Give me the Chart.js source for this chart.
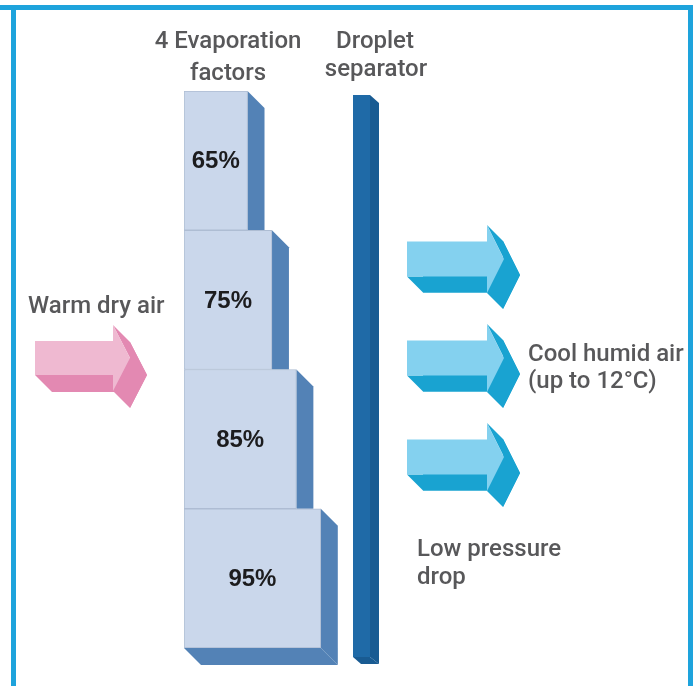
<!DOCTYPE html>
<html>
<head>
<meta charset="utf-8">
<script src="https://cdn.jsdelivr.net/npm/chart.js@4"></script>
<style>
  html, body { margin: 0; padding: 0; background: #fff; }
  #wrap { width: 697px; height: 686px; position: relative; }
</style>
</head>
<body>
<div id="wrap"><canvas id="chart"></canvas></div>
<script>
// ---- data ----
const STAGES = ["Stage 1", "Stage 2", "Stage 3", "Stage 4"];
const EVAPORATION = [65, 75, 85, 95];          // % evaporation factor per stage
const EVAP_LABELS = ["65%", "75%", "85%", "95%"];
const X_BASE = 39;                              // value where the blocks start
const X_MAX = 249;

const TEXT_COLOR = "#58585a";
const FRAME_COLOR = "#1ea3dc";
const DEPTH = 17;

// ---- drawing helpers ----
function poly(ctx, pts, color) {
  ctx.beginPath();
  ctx.moveTo(pts[0][0], pts[0][1]);
  for (let i = 1; i < pts.length; i++) ctx.lineTo(pts[i][0], pts[i][1]);
  ctx.closePath();
  ctx.fillStyle = color;
  ctx.fill();
}

// extruded arrow: front face + the side faces that face the viewer
function arrow3d(ctx, x, cy, bodyLen, bodyH, headLen, headH, d, front, side) {
  const bx = x + bodyLen;
  const pts = [
    [x, cy - bodyH / 2], [bx, cy - bodyH / 2], [bx, cy - headH / 2],
    [bx + headLen, cy], [bx, cy + headH / 2], [bx, cy + bodyH / 2], [x, cy + bodyH / 2],
  ];
  poly(ctx, pts.map(p => [p[0] + d, p[1] + d]), side);
  for (let i = 0; i < pts.length; i++) {
    const a = pts[i], b = pts[(i + 1) % pts.length];
    if ((b[1] - a[1]) - (b[0] - a[0]) > 0) {
      poly(ctx, [a, b, [b[0] + d, b[1] + d], [a[0] + d, a[1] + d]], side);
    }
  }
  poly(ctx, pts, front);
}

const decor = {
  id: "decor",
  beforeDatasetsDraw(chart) {
    const ctx = chart.ctx;
    const bars = chart.getDatasetMeta(0).data;
    ctx.save();
    // side faces of the evaporation blocks
    bars.forEach((bar, i) => {
      const top = bar.y - bar.height / 2, bottom = bar.y + bar.height / 2;
      const right = bar.x, left = bar.base;
      const last = i === bars.length - 1;
      poly(ctx, [[right, top], [right + DEPTH, top + DEPTH],
        [right + DEPTH, bottom + (last ? DEPTH : 0)], [right, bottom]], "#5382b6");
      if (last) {
        poly(ctx, [[left, bottom], [left + DEPTH, bottom + DEPTH],
          [right + DEPTH, bottom + DEPTH], [right, bottom]], "#5382b6");
      }
    });
    ctx.restore();
  },
  afterDatasetsDraw(chart) {
    const ctx = chart.ctx;
    const bars = chart.getDatasetMeta(0).data;
    ctx.save();

    // percentage labels
    ctx.font = "bold 24px 'Liberation Sans', Arial, sans-serif";
    ctx.fillStyle = "#1c1c1e";
    ctx.textAlign = "center";
    ctx.textBaseline = "middle";
    bars.forEach((bar, i) => {
      ctx.fillText(EVAP_LABELS[i], (bar.x + bar.base) / 2, bar.y + 1);
    });

    // droplet separator
    poly(ctx, [[370, 95], [379, 103], [379, 664], [370, 657]], "#195b92");
    poly(ctx, [[353, 657], [361, 664], [379, 664], [370, 657]], "#195b92");
    poly(ctx, [[353, 95], [370, 95], [370, 657], [353, 657]], "#1f6aa7");

    // air arrows
    arrow3d(ctx, 35, 358, 78, 34, 17, 66, 17, "#efb9d1", "#e389b2");
    [259, 358, 457].forEach(cy => {
      arrow3d(ctx, 407, cy, 80, 35, 17, 68, 16, "#84d1ef", "#19a3d1");
    });

    // texts
    ctx.font = "500 24px Roboto, 'Noto Sans', sans-serif";
    ctx.fillStyle = TEXT_COLOR;
    ctx.textBaseline = "alphabetic";
    ctx.textAlign = "center";
    ctx.fillText("4 Evaporation", 228, 48);
    ctx.fillText("factors", 228, 80);
    ctx.fillText("Droplet", 375, 48);
    ctx.fillText("separator", 376, 76);
    ctx.textAlign = "left";
    ctx.fillText("Warm dry air", 28, 313);
    ctx.fillText("Cool humid air", 528, 361);
    ctx.fillText("(up to 12°C)", 528, 388);
    ctx.fillText("Low pressure", 417, 556);
    ctx.fillText("drop", 417, 584);

    // frame
    ctx.fillStyle = FRAME_COLOR;
    ctx.fillRect(0, 5, 693, 5);
    ctx.fillRect(11, 5, 5, 681);
    ctx.fillRect(688, 5, 5, 681);
    ctx.restore();
  },
};

new Chart(document.getElementById("chart"), {
  type: "bar",
  data: {
    labels: STAGES,
    datasets: [{
      data: EVAPORATION,
      base: X_BASE,
      backgroundColor: "#cad7eb",
      borderColor: "#aebdd3",
      borderWidth: 1,
      borderSkipped: false,
      barPercentage: 1,
      categoryPercentage: 1,
    }],
  },
  options: {
    indexAxis: "y",
    animation: false,
    responsive: true,
    maintainAspectRatio: false,
    layout: { padding: { left: 184, right: 0, top: 91, bottom: 38 } },
    plugins: { legend: { display: false }, tooltip: { enabled: false } },
    scales: {
      x: { display: false, min: X_BASE, max: X_MAX },
      y: { display: false },
    },
  },
  plugins: [decor],
});
</script>
</body>
</html>
